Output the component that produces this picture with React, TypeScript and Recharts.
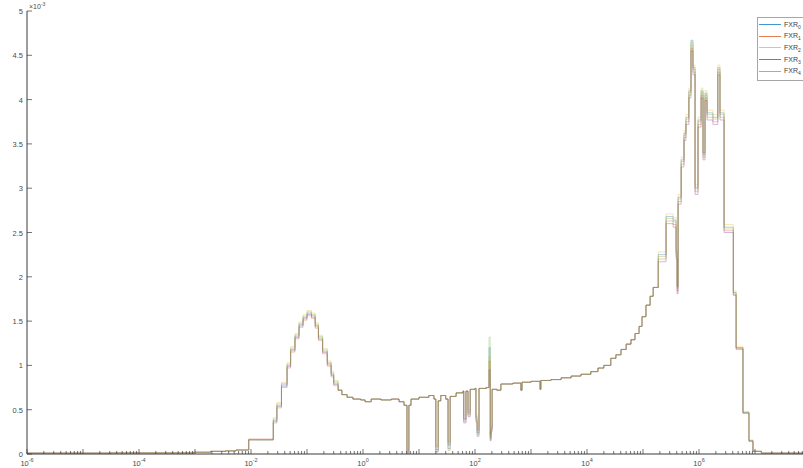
import React from 'react';
import { LineChart, Line, XAxis, YAxis, Legend } from 'recharts';

// Energy grid (bin edges, stepAfter)
const xValues = [
  1e-6, 3.2e-5, 9.5e-4, 1.9e-3, 3.5e-3, 5.4e-3, 9.1e-3, 2.5e-2, 2.9e-2, 3.5e-2,
  4.4e-2, 5.1e-2, 6.1e-2, 7.2e-2, 8.5e-2, 0.1, 0.12, 0.14, 0.16, 0.19,
  0.23, 0.27, 0.3, 0.36, 0.42, 0.52, 0.66, 0.91, 1.09, 1.4,
  2.1, 3.2, 4.4, 5.4, 6.1, 6.6, 7.2, 10, 15, 18.5,
  20, 22, 24.5, 30, 33, 36, 46, 61, 63, 69,
  75, 82, 100, 104, 109, 118, 158, 178, 187, 194,
  202, 246, 290, 475, 660, 690, 1000, 1450, 1500, 2270,
  3450, 5200, 7800, 11700, 15700, 20000, 26600, 32800, 40500, 50000,
  61000, 72000, 85000, 96000, 113000, 134000, 152000, 187000, 258000, 345000,
  390000, 406000, 423000, 480000, 540000, 585000, 660000, 720000, 780000, 850000,
  960000, 1.09e6, 1.18e6, 1.28e6, 1.39e6, 1.77e6, 2.17e6, 2.37e6, 2.8e6, 4.1e6,
  4.6e6, 6.1e6, 7.8e6, 9.2e6, 1.3e7, 1e8,
];

const fxr0 = [
  0.01, 0.012, 0.02, 0.03, 0.035, 0.045, 0.16, 0.38, 0.55, 0.78,
  1.0, 1.18, 1.33, 1.46, 1.54, 1.59, 1.56, 1.45, 1.31, 1.16,
  1.02, 0.9, 0.8, 0.72, 0.67, 0.64, 0.62, 0.61, 0.59, 0.62,
  0.61, 0.62, 0.59, 0.55, 0.02, 0.55, 0.62, 0.64, 0.66, 0.62,
  0.05, 0.6, 0.66, 0.62, 0.1, 0.65, 0.69, 0.71, 0.4, 0.71,
  0.47, 0.73, 0.74, 0.42, 0.24, 0.74, 0.75, 1.2, 0.18, 0.28,
  0.73, 0.72, 0.79, 0.8, 0.72, 0.81, 0.82, 0.73, 0.83, 0.84,
  0.86, 0.88, 0.9, 0.93, 0.97, 1.0, 1.08, 1.12, 1.18, 1.24,
  1.29, 1.36, 1.44, 1.55, 1.68, 1.78, 1.88, 2.25, 2.68, 2.64,
  2.28, 1.89, 2.9, 3.32, 3.62, 3.8, 4.1, 4.67, 4.36, 3.01,
  3.77, 4.1, 3.4, 4.07, 3.85, 3.8, 4.36, 3.85, 2.56, 1.82,
  1.2, 0.47, 0.15, 0.03, 0.01, 0.01,
];

const fxr1 = [
  0.01, 0.012, 0.02, 0.03, 0.035, 0.045, 0.17, 0.35, 0.52, 0.75,
  0.97, 1.15, 1.3, 1.43, 1.51, 1.56, 1.53, 1.42, 1.28, 1.13,
  0.99, 0.87, 0.77, 0.72, 0.67, 0.64, 0.62, 0.61, 0.59, 0.62,
  0.61, 0.62, 0.59, 0.55, 0.04, 0.55, 0.62, 0.64, 0.66, 0.62,
  0.08, 0.6, 0.66, 0.62, 0.14, 0.65, 0.69, 0.71, 0.37, 0.71,
  0.44, 0.73, 0.74, 0.38, 0.27, 0.74, 0.75, 1.05, 0.22, 0.3,
  0.73, 0.72, 0.79, 0.8, 0.72, 0.81, 0.82, 0.73, 0.83, 0.84,
  0.86, 0.88, 0.9, 0.93, 0.97, 1.0, 1.08, 1.12, 1.18, 1.24,
  1.29, 1.36, 1.44, 1.55, 1.68, 1.78, 1.88, 2.2, 2.63, 2.59,
  2.23, 1.84, 2.85, 3.27, 3.57, 3.75, 4.05, 4.58, 4.31, 2.96,
  3.72, 4.05, 3.35, 4.02, 3.8, 3.75, 4.31, 3.8, 2.52, 1.8,
  1.19, 0.46, 0.15, 0.03, 0.01, 0.01,
];

const fxr2 = [
  0.01, 0.012, 0.02, 0.03, 0.035, 0.045, 0.16, 0.41, 0.58, 0.81,
  1.03, 1.21, 1.36, 1.49, 1.57, 1.62, 1.59, 1.48, 1.34, 1.19,
  1.05, 0.93, 0.83, 0.72, 0.67, 0.64, 0.62, 0.61, 0.59, 0.62,
  0.61, 0.62, 0.59, 0.55, 0.06, 0.55, 0.62, 0.64, 0.66, 0.62,
  0.1, 0.6, 0.66, 0.62, 0.12, 0.65, 0.69, 0.71, 0.43, 0.71,
  0.5, 0.73, 0.74, 0.45, 0.3, 0.74, 0.75, 1.1, 0.2, 0.32,
  0.73, 0.72, 0.79, 0.8, 0.72, 0.81, 0.82, 0.73, 0.83, 0.84,
  0.86, 0.88, 0.9, 0.93, 0.97, 1.0, 1.08, 1.12, 1.18, 1.24,
  1.29, 1.36, 1.44, 1.55, 1.68, 1.78, 1.88, 2.28, 2.71, 2.67,
  2.31, 1.92, 2.93, 3.35, 3.65, 3.83, 4.13, 4.62, 4.39, 3.04,
  3.8, 4.13, 3.43, 4.1, 3.88, 3.83, 4.39, 3.88, 2.59, 1.84,
  1.21, 0.48, 0.16, 0.03, 0.01, 0.01,
];

const fxr3 = [
  0.01, 0.012, 0.02, 0.03, 0.035, 0.045, 0.16, 0.365, 0.535, 0.765,
  0.985, 1.165, 1.315, 1.445, 1.525, 1.575, 1.545, 1.435, 1.295, 1.145,
  1.005, 0.885, 0.785, 0.72, 0.67, 0.64, 0.62, 0.61, 0.59, 0.62,
  0.61, 0.62, 0.59, 0.55, 0.01, 0.55, 0.62, 0.64, 0.66, 0.62,
  0.03, 0.6, 0.66, 0.62, 0.06, 0.65, 0.69, 0.71, 0.35, 0.71,
  0.42, 0.73, 0.74, 0.36, 0.2, 0.74, 0.75, 0.95, 0.15, 0.25,
  0.73, 0.72, 0.79, 0.8, 0.72, 0.81, 0.82, 0.73, 0.83, 0.84,
  0.86, 0.88, 0.9, 0.93, 0.97, 1.0, 1.08, 1.12, 1.18, 1.24,
  1.29, 1.36, 1.44, 1.55, 1.68, 1.78, 1.88, 2.17, 2.6, 2.56,
  2.2, 1.81, 2.82, 3.24, 3.54, 3.72, 4.02, 4.55, 4.28, 2.93,
  3.69, 4.02, 3.32, 3.99, 3.77, 3.72, 4.28, 3.77, 2.5, 1.79,
  1.18, 0.46, 0.14, 0.03, 0.01, 0.01,
];

const fxr4 = [
  0.01, 0.012, 0.02, 0.03, 0.035, 0.045, 0.16, 0.395, 0.565, 0.795,
  1.015, 1.195, 1.345, 1.475, 1.555, 1.605, 1.575, 1.465, 1.325, 1.175,
  1.035, 0.915, 0.815, 0.72, 0.67, 0.64, 0.62, 0.61, 0.59, 0.62,
  0.61, 0.62, 0.59, 0.55, 0.0, 0.55, 0.62, 0.64, 0.66, 0.62,
  0.02, 0.6, 0.66, 0.62, 0.04, 0.65, 0.69, 0.71, 0.39, 0.71,
  0.45, 0.73, 0.74, 0.4, 0.22, 0.74, 0.75, 1.32, 0.16, 0.27,
  0.73, 0.72, 0.79, 0.8, 0.72, 0.81, 0.82, 0.73, 0.83, 0.84,
  0.86, 0.88, 0.9, 0.93, 0.97, 1.0, 1.08, 1.12, 1.18, 1.24,
  1.29, 1.36, 1.44, 1.55, 1.68, 1.78, 1.88, 2.23, 2.66, 2.62,
  2.26, 1.87, 2.88, 3.3, 3.6, 3.78, 4.08, 4.65, 4.34, 2.99,
  3.75, 4.08, 3.38, 4.05, 3.83, 3.78, 4.34, 3.83, 2.54, 1.82,
  1.2, 0.47, 0.15, 0.03, 0.01, 0.01,
];

const seriesKeys = ['fxr0', 'fxr1', 'fxr2', 'fxr3', 'fxr4'];
const seriesNames = ['FXR0', 'FXR1', 'FXR2', 'FXR3', 'FXR4'];
const seriesSubs = ['0', '1', '2', '3', '4'];
const seriesColors = ['#0072BD', '#D95319', '#EDB120', '#7E2F8E', '#77AC30'];

const decadeTicks = [1e-6, 1e-5, 1e-4, 1e-3, 1e-2, 1e-1, 1, 1e1, 1e2, 1e3, 1e4, 1e5, 1e6, 1e7, 1e8];
const labeledDecades = [1e-6, 1e-4, 1e-2, 1, 1e2, 1e4, 1e6, 1e8];
const decadeExponents = ['-6', '-4', '-2', '0', '2', '4', '6', '8'];
const minorMultipliers = [2, 3, 4, 5, 6, 7, 8, 9];

const yTicks = [0, 0.5, 1, 1.5, 2, 2.5, 3, 3.5, 4, 4.5, 5];
const yTickLabels = ['0', '0.5', '1', '1.5', '2', '2.5', '3', '3.5', '4', '4.5', '5'];

const allXTicks: number[] = [];
decadeTicks.forEach((d, i) => {
  allXTicks.push(d);
  if (i < decadeTicks.length - 1) minorMultipliers.forEach((m) => allXTicks.push(d * m));
});

const seriesArrays = [fxr0, fxr1, fxr2, fxr3, fxr4];
const data = xValues.map((x, i) => {
  const row: any = { x };
  seriesKeys.forEach((k, s) => {
    row[k] = seriesArrays[s][i];
  });
  return row;
});

const FONT = '"Liberation Sans", Arial, Helvetica, sans-serif';
const AXIS = '#3a3a3a';
const LABEL = '#4a4a4a';

const isMajor = (v: number) => {
  const lg = Math.log10(v);
  return Math.abs(lg - Math.round(lg)) < 1e-6;
};

const BottomTick = (props: any) => {
  const { x, y, payload } = props;
  const v = payload.value;
  const lg = Math.log10(v);
  const major = isMajor(v);
  const idx = labeledDecades.findIndex((d) => Math.abs(Math.log10(d) - lg) < 1e-6);
  return (
    <g>
      <line x1={x} x2={x} y1={y} y2={y - (major ? 5 : 3)} stroke={AXIS} strokeWidth={0.7} />
      {idx >= 0 && (
        <text x={x} y={y + 12} textAnchor="middle" fontSize={7.5} fill={LABEL} fontFamily={FONT}>
          10
          <tspan dy={-4} fontSize={5.5}>
            {decadeExponents[idx]}
          </tspan>
        </text>
      )}
    </g>
  );
};

const TopTick = (props: any) => {
  const { x, y, payload } = props;
  const major = isMajor(payload.value);
  return <line x1={x} x2={x} y1={y} y2={y + (major ? 5 : 3)} stroke={AXIS} strokeWidth={0.7} />;
};

const LeftTick = (props: any) => {
  const { x, y, payload } = props;
  const idx = yTicks.indexOf(payload.value);
  return (
    <g>
      <line x1={x} x2={x + 5} y1={y} y2={y} stroke={AXIS} strokeWidth={0.7} />
      <text x={x - 4} y={y + 3} textAnchor="end" fontSize={7.5} fill={LABEL} fontFamily={FONT}>
        {idx >= 0 ? yTickLabels[idx] : ''}
      </text>
    </g>
  );
};

const LegendBox = () => {
  return (
    <div
      style={{
        border: '1px solid #a6a6a6',
        background: '#fff',
        padding: '1px 8px 3px 1px',
        fontFamily: FONT,
        fontSize: 7,
        color: '#404040',
        whiteSpace: 'nowrap',
      }}
    >
      {seriesNames.map((name, i) => (
        <div key={name} style={{ display: 'flex', alignItems: 'center', height: 11.6 }}>
          <svg width={22} height={3} style={{ display: 'block' }}>
            <line x1={0} x2={22} y1={1.5} y2={1.5} stroke={seriesColors[i]} strokeWidth={1} strokeOpacity={0.75} />
          </svg>
          <span style={{ marginLeft: 3, lineHeight: '8px' }}>
            {name.slice(0, 3)}
            <span style={{ fontSize: 5, position: 'relative', top: 2 }}>{seriesSubs[i]}</span>
          </span>
        </div>
      ))}
    </div>
  );
};

export default function App() {
  return (
    <div
      style={{
        position: 'fixed',
        left: 0,
        top: 0,
        width: 803,
        height: 468,
        overflow: 'hidden',
        background: '#ffffff',
      }}
    >
      <LineChart width={811} height={468} data={data} margin={{ top: 11, right: 0, bottom: 0, left: 0 }}>
        <XAxis
          dataKey="x"
          type="number"
          scale="log"
          domain={[1e-6, 1e8]}
          allowDataOverflow
          ticks={allXTicks}
          interval={0}
          tick={BottomTick}
          tickLine={false}
          tickSize={0}
          tickMargin={0}
          height={14}
          axisLine={{ stroke: AXIS, strokeWidth: 1 }}
        />
        <XAxis
          xAxisId="top"
          orientation="top"
          dataKey="x"
          type="number"
          scale="log"
          domain={[1e-6, 1e8]}
          allowDataOverflow
          ticks={allXTicks}
          interval={0}
          tick={TopTick}
          tickLine={false}
          tickSize={0}
          tickMargin={0}
          height={0}
          axisLine={{ stroke: AXIS, strokeWidth: 1 }}
        />
        <YAxis
          type="number"
          domain={[0, 5]}
          ticks={yTicks}
          interval={0}
          tick={LeftTick}
          tickLine={false}
          tickSize={0}
          tickMargin={0}
          width={27}
          axisLine={{ stroke: AXIS, strokeWidth: 1 }}
          allowDataOverflow
        />
        {seriesKeys.map((k, i) => (
          <Line
            key={k}
            dataKey={k}
            name={seriesNames[i]}
            type="stepAfter"
            stroke={seriesColors[i]}
            strokeWidth={0.6}
            strokeOpacity={0.55}
            dot={false}
            activeDot={false}
            isAnimationActive={false}
          />
        ))}
        <Legend
          content={LegendBox}
          layout="vertical"
          align="center"
          verticalAlign="middle"
          wrapperStyle={{ left: 757, top: 17, width: 'auto', height: 'auto' }}
        />
      </LineChart>
      <div
        style={{
          position: 'absolute',
          left: 29,
          top: 1,
          fontFamily: FONT,
          fontSize: 7,
          color: LABEL,
          lineHeight: '7px',
        }}
      >
        ×10<sup style={{ fontSize: 5 }}>-3</sup>
      </div>
    </div>
  );
}
